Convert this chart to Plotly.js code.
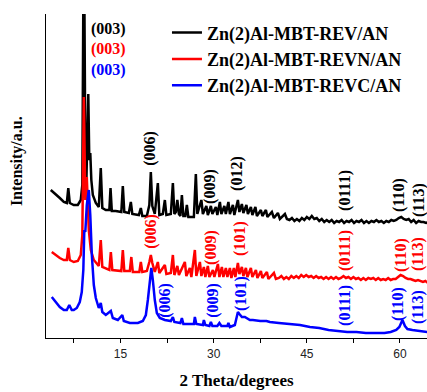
<!DOCTYPE html>
<html>
<head>
<meta charset="utf-8">
<script src="https://cdn.plot.ly/plotly-3.0.1.min.js"></script>
<style>html,body{margin:0;padding:0;background:#fff;}#chart{width:427px;height:392px;}</style>
</head>
<body>
<div id="chart"></div>
<script>
// ---- data (2θ in degrees, intensity in arbitrary offset units) ----
const seriesNames = ["Zn(2)Al-MBT-REV/AN", "Zn(2)Al-MBT-REVN/AN", "Zn(2)Al-MBT-REVC/AN"];

const thetaBlack = [3.77,4.58,5.22,5.87,6.35,6.59,6.83,7.47,8.12,8.60,8.85,9.09,9.33,9.49,9.81,9.97,10.13,10.30,10.54,11.02,11.50,11.82,12.07,12.63,13.20,13.39,13.60,14.24,15.13,15.37,15.61,16.34,16.66,16.90,17.95,18.27,18.51,19.24,19.64,19.88,20.12,20.52,21.01,21.25,21.81,22.14,22.38,23.10,23.43,23.67,23.91,24.15,24.40,24.64,24.88,25.12,25.44,25.68,25.92,26.81,27.13,27.37,28.02,28.26,28.82,29.06,29.55,29.79,30.35,30.59,31.00,31.24,31.72,31.96,32.37,32.61,33.09,33.33,33.90,34.14,34.54,34.78,35.27,35.51,35.99,36.23,36.72,36.96,37.60,37.84,38.41,38.65,39.37,39.70,40.34,40.66,41.47,41.79,
42.2,42.6,43.0,43.4,43.8,44.2,44.6,45.0,45.4,45.8,46.2,46.6,47.0,47.4,47.8,48.2,48.6,49.0,49.4,49.8,50.2,50.6,51.0,51.4,51.8,52.2,52.6,53.0,53.4,53.8,54.2,54.6,55.0,55.4,55.8,56.2,56.6,57.0,57.4,57.8,58.2,58.6,59.0,59.4,59.8,60.2,60.6,61.0,61.4,61.8,62.2,62.6,63.0,63.4,63.8,64.2,64.6];
const intBlack = [148,144,140,136,135,150,135,133,133,138,153,430,188,153,244,178,185,158,143,135,131,170,130,128,128,150,127,127,126,152,126,125,136,124,123,130,122,122,133,166,132,124,155,123,124,138,123,124,155,124,126,138,124,122,143,122,122,133,121,121,164,124,138,124,132,123,132,124,131,123,136,124,132,124,136,124,133,123,138,126,134,125,133,124,131,123,131,122,128,122,128,121,126,120,125,119,124,119,
118,120,117,119,117,120,118,121,119,122,119,120,117,119,116,118,116,118,115,117,116,118,115,117,116,118,115,117,116,118,115,117,115,117,116,118,116,117,115,117,116,118,117,118,120,121,119,118,119,116,118,115,117,116,116,115,116];

const thetaRed = [3.93,4.58,5.22,5.87,6.35,6.59,6.83,7.47,8.12,8.60,8.85,9.09,9.33,9.57,9.89,10.22,10.70,11.50,11.82,12.07,13.20,13.44,13.68,15.13,15.37,15.61,16.50,16.74,16.98,18.03,18.27,18.51,19.24,19.64,19.88,20.12,20.52,21.01,21.25,22.14,22.38,23.10,23.43,23.67,24.15,24.40,25.36,25.60,26.16,26.41,26.97,27.21,27.78,28.02,28.42,28.66,29.06,29.31,29.87,30.11,30.68,30.92,31.32,31.56,31.96,32.21,32.61,32.85,33.25,33.49,33.90,34.14,34.54,34.78,35.19,35.43,35.99,36.23,36.80,37.04,37.60,37.84,38.57,38.81,39.70,40.02,
40.5,40.9,41.3,41.7,42.1,42.5,42.9,43.3,43.7,44.1,44.5,44.9,45.3,45.7,46.1,46.5,46.9,47.3,47.7,48.1,48.5,48.9,49.3,49.7,50.1,50.5,50.9,51.3,51.7,52.1,52.5,52.9,53.3,53.7,54.1,54.5,54.9,55.3,55.7,56.1,56.5,56.9,57.3,57.7,58.1,58.5,58.9,59.3,59.7,60.1,60.5,60.9,61.3,61.7,62.1,62.5,62.9,63.3,63.7,64.1,64.5];
const intRed = [86,83,80,78,78,90,78,76,77,83,103,241,138,161,108,88,78,72,98,71,68,86,68,67,88,67,67,81,66,66,76,66,67,76,83,75,66,76,65,73,64,65,83,63,72,63,76,62,70,61,88,62,76,62,71,61,72,61,68,61,74,61,71,61,70,61,70,60,70,61,75,64,71,62,70,61,70,61,68,60,67,60,66,59,65,59,
60,62,59,61,59,62,60,62,60,63,61,63,61,62,60,62,60,61,59,61,59,61,59,61,59,60,62,60,61,59,61,59,60,58,60,58,60,59,60,58,60,58,59,58,60,58,59,59,61,63,62,60,59,59,58,57,58,57,56,57,55];

const thetaBlue = [3.93,4.58,5.22,5.87,6.35,6.75,7.15,7.47,7.96,8.44,8.76,9.01,9.17,9.33,9.57,9.89,10.13,10.38,10.70,11.02,11.50,11.82,12.07,12.63,13.44,13.76,14.57,15.29,15.53,16.50,17.79,18.59,19.08,19.40,19.72,19.96,20.20,20.52,20.85,21.33,22.14,23.10,23.43,23.67,24.64,24.88,25.12,26.81,26.97,27.21,28.26,28.42,28.66,29.31,29.55,29.79,30.59,30.92,31.24,32.21,32.37,32.61,33.41,33.74,33.90,34.14,34.54,35.02,35.83,36.31,37.5,38.5,39.05,40.5,42.0,43.9,45.5,47.0,48.5,50.0,51.5,53.0,54.5,56.0,57.5,58.5,59.4,59.9,60.4,60.8,61.2,62.0,63.0,64.4];
const intBlue = [41,36,31,28,28,33,28,28,30,36,46,68,108,106,133,148,123,83,53,40,30,35,26,23,27,20,18,23,17,15,15,17,23,38,60,70,58,38,25,20,18,17,21,16,15,20,14,14,21,14,13,18,13,12,16,12,12,15,12,12,15,11,13,21,26,24,21,21,18,18,17,17,16,15,14,13,11,10,8,7,6,6,5,5,5,6,8,11,18,12,9,8,7,6];

const colors = ["#000000", "#ff0000", "#0000ff"];

const serif = "Liberation Serif, Times New Roman, serif";

const traces = [
  {x: thetaBlack, y: intBlack, name: "<b>" + seriesNames[0] + "</b>"},
  {x: thetaRed, y: intRed, name: "<b>" + seriesNames[1] + "</b>"},
  {x: thetaBlue, y: intBlue, name: "<b>" + seriesNames[2] + "</b>"}
].map((t, i) => Object.assign(t, {type: "scatter", mode: "lines", line: {color: colors[i], width: 2.5}}));

// hkl labels
function lab(x, y, text, color, angle) {
  return {x: x, y: y, xref: "x", yref: "y", text: "<b>" + text + "</b>", showarrow: false,
    textangle: angle === undefined ? -90 : angle, font: {family: serif, size: 16, color: color},
    xanchor: "center", yanchor: "middle"};
}
const annotations = [
  Object.assign(lab(9.89, 309, "(003)", colors[0], 0), {xanchor: "left"}),
  Object.assign(lab(9.89, 289, "(003)", colors[1], 0), {xanchor: "left"}),
  Object.assign(lab(9.89, 268, "(003)", colors[2], 0), {xanchor: "left"}),
  lab(19.72, 190, "(006)", colors[0]),
  lab(29.39, 152, "(009)", colors[0]),
  lab(33.74, 165, "(012)", colors[0]),
  lab(51.13, 148, "(0111)", colors[0]),
  lab(59.83, 143, "(110)", colors[0]),
  lab(63.06, 138, "(113)", colors[0]),
  lab(19.88, 107, "(006)", colors[1]),
  lab(29.55, 91, "(009)", colors[1]),
  lab(34.22, 100, "(101)", colors[1]),
  lab(51.13, 88, "(0111)", colors[1]),
  lab(60.16, 83, "(110)", colors[1]),
  lab(62.9, 84, "(113)", colors[1]),
  lab(22.14, 38, "(006)", colors[2]),
  lab(29.87, 38, "(009)", colors[2]),
  lab(34.38, 45, "(101)", colors[2]),
  lab(51.13, 33, "(0111)", colors[2]),
  lab(59.67, 34, "(110)", colors[2]),
  lab(62.9, 31, "(113)", colors[2]),
  // y-axis title
  {x: -0.0761, y: 0.546, xref: "paper", yref: "paper", text: "<b>Intensity/a.u.</b>", showarrow: false,
    textangle: -90, font: {family: serif, size: 16, color: "#000"}, xanchor: "center", yanchor: "middle"}
];

const layout = {
  width: 427, height: 392,
  margin: {l: 46, r: 0, t: 14, b: 54, pad: 0},
  paper_bgcolor: "#fff", plot_bgcolor: "#fff",
  showlegend: true,
  legend: {x: 0.3175, y: 0.999, xanchor: "left", yanchor: "top", bgcolor: "rgba(0,0,0,0)",
    font: {family: serif, size: 18, color: "#000"}, borderwidth: 0, tracegroupgap: 0},
  xaxis: {range: [3, 64.35], showline: true, linecolor: "#000", linewidth: 1.2, mirror: false,
    ticks: "outside", ticklen: 4, tickwidth: 1, tickcolor: "#000", tick0: 0, dtick: 15,
    minor: {dtick: 7.5, ticks: "outside", ticklen: 4, tickwidth: 1, tickcolor: "#000", showgrid: false},
    showgrid: false, zeroline: false,
    tickfont: {family: "Liberation Sans, Arial, sans-serif", size: 12, color: "#222"},
    title: {text: "<b>2 Theta/degrees</b>", font: {family: serif, size: 17, color: "#000"}, standoff: 14}},
  yaxis: {range: [0, 324], showline: true, linecolor: "#000", linewidth: 1.2, mirror: false,
    ticks: "", showticklabels: false, showgrid: false, zeroline: false},
  annotations: annotations
};

Plotly.newPlot("chart", traces, layout, {displayModeBar: false, staticPlot: true});
</script>
</body>
</html>
